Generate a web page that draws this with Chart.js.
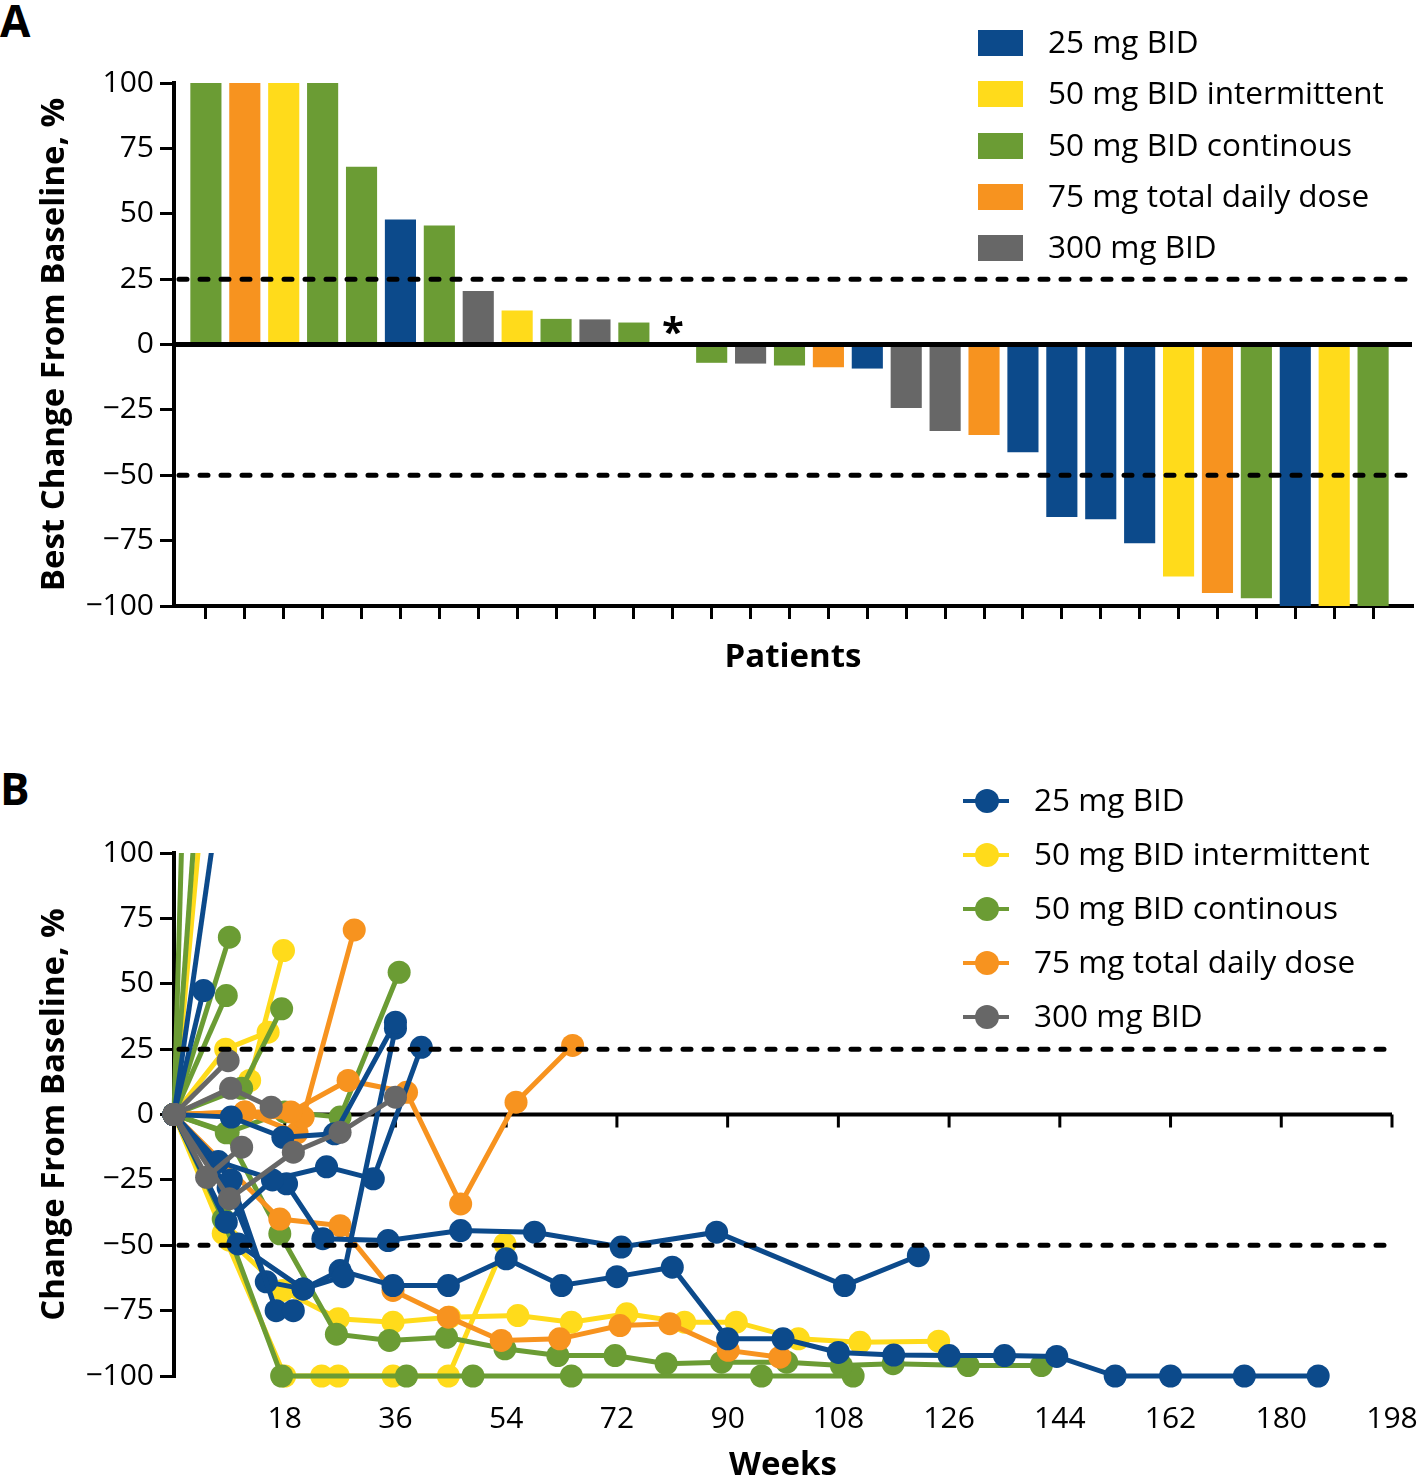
<!DOCTYPE html>
<html>
<head>
<meta charset="utf-8">
<script src="https://cdn.jsdelivr.net/npm/chart.js@4.4.1/dist/chart.umd.min.js"></script>
<style>
  body { margin: 0; background: #fff; width: 1417px; height: 1477px; position: relative; overflow: hidden; font-family: "Open Sans", sans-serif; color: #000; }
  .letter { position: absolute; left: 0; font-weight: bold; font-size: 44px; line-height: 1; }
  #wrapA { position: absolute; left: 0; top: 0; }
  #wrapB { position: absolute; left: 0; top: 720px; }
  .legend { position: absolute; font-size: 31.5px; }
  .legend .row { position: absolute; left: 0; height: 40px; white-space: nowrap; }
  .legend .swatch { position: absolute; left: 0; top: 7px; width: 45px; height: 26px; }
  .legend .seg { position: absolute; left: 0; top: 18px; width: 46px; height: 4px; }
  .legend .dot { position: absolute; left: 12px; top: 8px; width: 24px; height: 24px; border-radius: 50%; }
  .legend .txt { position: absolute; top: -2px; line-height: 40px; }
</style>
</head>
<body>
<div class="letter" style="top:-2px">A</div>
<div class="letter" style="top:766px">B</div>
<div id="wrapA"><canvas id="chartA" width="1417" height="700"></canvas></div>
<div id="wrapB"><canvas id="chartB" width="1417" height="770"></canvas></div>
<div class="legend" id="legendA" style="left:978px; top:23px"></div>
<div class="legend" id="legendB" style="left:963px; top:781px"></div>
<script>
// dose groups
const doses = ["25 mg BID", "50 mg BID intermittent", "50 mg BID continous", "75 mg total daily dose", "300 mg BID"];
const doseColors = ["#0c4a8b", "#ffdb1b", "#6b9c34", "#f7931f", "#676767"];

// panel A: best change per patient (waterfall), dose index per patient
const patients = [1,2,3,4,5,6,7,8,9,10,11,12,13,14,15,16,17,18,19,20,21,22,23,24,25,26,27,28,29,30,31];
const bestChange = [100,100,100,100,68,47.8,45.5,20.5,13,9.8,9.6,8.4,0.6,-7,-7.3,-8,-8.7,-9.2,-24.3,-33.1,-34.6,-41.2,-66,-66.8,-76,-88.7,-95,-97,-100,-100,-100];
const patientDose = [2,3,1,2,2,0,2,4,1,2,4,2,3,2,4,2,3,0,4,4,3,0,0,0,0,1,3,2,0,1,2];
const asteriskPatient = 13;

const valueTicks = [-100,-75,-50,-25,0,25,50,75,100];
const refValues = [25, -50];
const weekTicks = [18,36,54,72,90,108,126,144,162,180,198];

// panel B: change from baseline over time, one list per patient, grouped by dose
const weeks25 = [
  [0,12],
  [0,4.8],
  [0,9.3,17.7,26.1,36],
  [0,8.5,16,24.8,32.4,40.2],
  [0,7.2,18.3,24.2,34.8,46.6,58.6,72.7,88.2,109,121],
  [0,10.4,21,27.5,36],
  [0,9.3,16.6,19.4],
  [0,8.8,15,21,27,35.6,44.6,54,63,72,81,90,99,108,117,126,135,143.5,153,162,174,186]
];
const change25 = [
  [0,198],
  [0,47.4],
  [0,-1,-8.7,-7.4,35.3],
  [0,-41.2,-25,-20,-24.6,25.7],
  [0,-18,-26.5,-47.5,-48.2,-44.4,-45,-50.7,-45,-65.4,-54],
  [0,-49.5,-66.7,-62,33],
  [0,-25,-75,-75],
  [0,-28,-64,-66.7,-59.7,-65.4,-65.4,-55.2,-65.4,-62,-58.4,-85.8,-85.8,-91,-92,-92.2,-92.2,-92.5,-100,-100,-100,-100]
];
const weeks50i = [
  [0,12],
  [0,12.3,17.8],
  [0,8.4,15.3],
  [0,8,18,24,26.7,35.6,44.6,53.8],
  [0,9,17.7,26.7,35.6,44.8,55.9,64.6,73.6,83,91.4,101.5,111.5,124.3]
];
const change50i = [
  [0,308],
  [0,13,62.7],
  [0,25,31.5],
  [0,-45.5,-100,-100,-100,-100,-100,-49.5],
  [0,-48,-67.3,-78.1,-79.4,-77.5,-76.9,-79.4,-76.2,-79.4,-79.4,-85.8,-87.1,-86.7]
];
const weeks50c = [
  [0,12],
  [0,12],
  [0,9],
  [0,8.5],
  [0,11,17.5],
  [0,8.8,18,27,36.6],
  [0,8.5,17.2,26.4,35,44.3,53.8,62.4,71.7,80,89,99.6,108.5,116.9,129.1,141],
  [0,8,17.5,37.8,48.6,64.6,95.5,110.4]
];
const change50c = [
  [0,1000],
  [0,390],
  [0,67.8],
  [0,45.5],
  [0,10,40.4],
  [0,-6.8,1,-1,54.4],
  [0,-7,-45.6,-84,-86.4,-85.2,-89.6,-92.2,-92.2,-95.3,-94.7,-94.7,-96,-95.3,-96,-96],
  [0,-40,-100,-100,-100,-100,-100,-100]
];
const weeks75 = [
  [0,11.5,19,28.3,37.8,46.6,55.6,64.8],
  [0,21,29.3],
  [0,17.2,27,35.6,44.6,53.2,62.7,72.5,80.6,90.1,98.5],
  [0,11.5,20]
];
const change75 = [
  [0,1,1,13,8.5,-34.2,4.7,26.4],
  [0,-1,70.6],
  [0,-40,-42.5,-67.3,-77.5,-86.4,-85.8,-80.7,-80,-90.2,-92.8],
  [0,1,-7]
];
const weeks300 = [
  [0,8.8],
  [0,9.2,15.8],
  [0,9,19.4,27,36],
  [0,5.3,11]
];
const change300 = [
  [0,20.6],
  [0,10,2.8],
  [0,-32.2,-14.4,-6.8,6.6],
  [0,-24,-12.5]
];

const FONT = "'Open Sans', sans-serif";
const minus = v => (v < 0 ? "\u2212" + Math.abs(v) : String(v));

// legends as html
function buildLegend(id, kind, step) {
  const el = document.getElementById(id);
  doses.forEach((d, i) => {
    const row = document.createElement("div");
    row.className = "row";
    row.style.top = (i * step) + "px";
    if (kind === "box") {
      row.innerHTML = '<div class="swatch" style="background:' + doseColors[i] + '"></div>' +
        '<div class="txt" style="left:70px">' + d + '</div>';
    } else {
      row.innerHTML = '<div class="seg" style="background:' + doseColors[i] + '"></div>' +
        '<div class="dot" style="background:' + doseColors[i] + '"></div>' +
        '<div class="txt" style="left:71px">' + d + '</div>';
    }
    el.appendChild(row);
  });
}
buildLegend("legendA", "box", 51.25);
buildLegend("legendB", "line", 54);

// zero line, dashed reference lines, asterisk
function drawZero(chart, opts) {
  const { ctx, chartArea: a, scales: { x, y } } = chart;
  const py = y.getPixelForValue(0);
  ctx.save();
  ctx.strokeStyle = "#000";
  ctx.lineWidth = opts.zeroWidth;
  ctx.beginPath();
  ctx.moveTo(a.left, py);
  ctx.lineTo(a.right, py);
  ctx.stroke();
  if (opts.zeroTicks) {
    ctx.lineWidth = 3;
    opts.zeroTicks.forEach(w => {
      const px = x.getPixelForValue(w);
      ctx.beginPath();
      ctx.moveTo(px, py);
      ctx.lineTo(px, py + 13);
      ctx.stroke();
    });
  }
  ctx.restore();
}

const refLines = {
  id: "refLines",
  beforeDatasetsDraw(chart, args, opts) {
    if (opts.zeroBelow) drawZero(chart, opts);
  },
  afterDatasetsDraw(chart, args, opts) {
    const { ctx, chartArea: a, scales: { x, y } } = chart;
    ctx.save();
    ctx.strokeStyle = "#000";
    ctx.lineWidth = 5;
    ctx.lineCap = "round";
    ctx.setLineDash([8, 13]);
    refValues.forEach(v => {
      const py = y.getPixelForValue(v);
      ctx.beginPath();
      ctx.moveTo(a.left + 5, py);
      ctx.lineTo(a.right, py);
      ctx.stroke();
    });
    ctx.restore();
    if (!opts.zeroBelow) drawZero(chart, opts);
    if (opts.asterisk) {
      ctx.save();
      ctx.fillStyle = "#000";
      ctx.font = "bold 40px " + FONT;
      ctx.textAlign = "center";
      ctx.textBaseline = "middle";
      ctx.fillText("*", x.getPixelForValue(opts.asterisk), y.getPixelForValue(0) - 10);
      ctx.restore();
    }
  }
};

function yAxis(title) {
  return {
    min: -100, max: 100,
    afterBuildTicks: s => { s.ticks = valueTicks.map(v => ({ value: v })); },
    afterFit: s => { s.width = 174; },
    border: { color: "#000", width: 4 },
    grid: { drawOnChartArea: false, color: "#000", lineWidth: 3, tickLength: 14 },
    ticks: { color: "#000", padding: 6, font: { size: 30, family: FONT }, callback: v => minus(v) },
    title: { display: true, text: title, color: "#000", font: { size: 33, weight: "bold", family: FONT }, padding: { top: 35, bottom: 0 } }
  };
}

// panel A
new Chart(document.getElementById("chartA"), {
  type: "bar",
  data: {
    datasets: [{
      data: bestChange.map((v, i) => ({ x: patients[i], y: v })),
      backgroundColor: patientDose.map(d => doseColors[d]),
      barPercentage: 1,
      categoryPercentage: 0.8
    }]
  },
  options: {
    responsive: false,
    animation: false,
    layout: { padding: { top: 83, right: 5, left: 0, bottom: 0 } },
    plugins: {
      legend: { display: false },
      tooltip: { enabled: false },
      refLines: { zeroWidth: 5, zeroBelow: false, asterisk: asteriskPatient }
    },
    scales: {
      x: {
        type: "linear", min: 0.18, max: 32, offset: false,
        afterBuildTicks: s => { s.ticks = patients.map(p => ({ value: p })); },
        afterFit: s => { s.height = 94; },
        border: { color: "#000", width: 4 },
        grid: { offset: false, drawOnChartArea: false, color: "#000", lineWidth: 3, tickLength: 13 },
        ticks: { display: false },
        title: { display: true, text: "Patients", color: "#000", font: { size: 33, weight: "bold", family: FONT }, padding: { top: 0, bottom: 23 } }
      },
      y: yAxis("Best Change From Baseline, %")
    }
  },
  plugins: [refLines]
});

// panel B
const groups = [
  { dose: 4, weeks: weeks300, change: change300, order: 1 },
  { dose: 0, weeks: weeks25, change: change25, order: 2 },
  { dose: 3, weeks: weeks75, change: change75, order: 3 },
  { dose: 2, weeks: weeks50c, change: change50c, order: 4 },
  { dose: 1, weeks: weeks50i, change: change50i, order: 5 }
];
const lineSets = [];
groups.forEach(g => {
  g.weeks.forEach((w, i) => {
    lineSets.push({
      data: w.map((wk, j) => ({ x: wk, y: g.change[i][j] })),
      borderColor: doseColors[g.dose],
      backgroundColor: doseColors[g.dose],
      pointBackgroundColor: doseColors[g.dose],
      borderWidth: 5,
      pointRadius: 11.5,
      pointHoverRadius: 11.5,
      pointBorderWidth: 0,
      tension: 0,
      order: g.order,
      clip: { left: 20, top: 0, right: 20, bottom: 20 }
    });
  });
});

new Chart(document.getElementById("chartB"), {
  type: "line",
  data: { datasets: lineSets },
  options: {
    responsive: false,
    animation: false,
    layout: { padding: { top: 133, right: 25, left: 0, bottom: 0 } },
    plugins: {
      legend: { display: false },
      tooltip: { enabled: false },
      refLines: { zeroWidth: 4, zeroBelow: true, zeroTicks: weekTicks }
    },
    scales: {
      x: {
        type: "linear", min: 0, max: 198,
        afterBuildTicks: s => { s.ticks = weekTicks.map(v => ({ value: v })); },
        afterFit: s => { s.height = 114; s.paddingRight = 0; s.paddingLeft = 0; },
        border: { display: false },
        grid: { display: false, drawTicks: false },
        ticks: { color: "#000", padding: 25, maxRotation: 0, font: { size: 30, family: FONT } },
        title: { display: true, text: "Weeks", color: "#000", font: { size: 33, weight: "bold", family: FONT }, padding: { top: 0, bottom: 5 } }
      },
      y: yAxis("Change From Baseline, %")
    }
  },
  plugins: [refLines]
});
</script>
</body>
</html>
